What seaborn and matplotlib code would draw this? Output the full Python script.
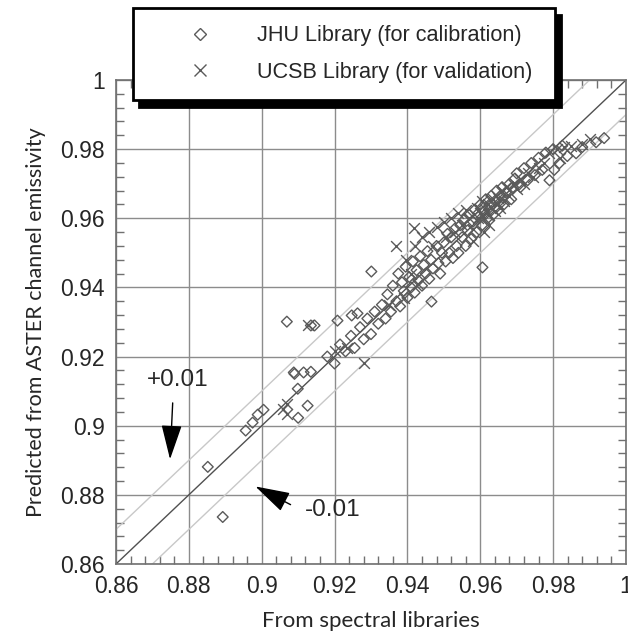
import numpy as np
import pandas as pd
import matplotlib
matplotlib.use("Agg")
import matplotlib.pyplot as plt
from matplotlib.lines import Line2D
from matplotlib.ticker import MultipleLocator, FuncFormatter
import seaborn as sns

# JHU library (calibration) - diamonds
jhu_x = [0.8852, 0.8893, 0.8956, 0.8975, 0.8989, 0.9005, 0.9069, 0.9135, 0.9088, 0.9115,
         0.9135, 0.9099, 0.9126, 0.9100, 0.9090, 0.9145, 0.9208, 0.9247, 0.9263, 0.9301,
         0.9466, 0.9606,
         0.9180, 0.9200, 0.9215, 0.9230, 0.9245, 0.9255, 0.9270, 0.9280, 0.9290, 0.9300,
         0.9310, 0.9320, 0.9330, 0.9340, 0.9345,
         0.9355, 0.9360, 0.9370, 0.9375, 0.9380, 0.9385, 0.9390, 0.9395, 0.9400, 0.9405,
         0.9410, 0.9415, 0.9420, 0.9425, 0.9430, 0.9435, 0.9440, 0.9445, 0.9450, 0.9455,
         0.9460, 0.9465, 0.9470, 0.9480, 0.9485, 0.9490, 0.9495,
         0.9500, 0.9505, 0.9510, 0.9515, 0.9520, 0.9525, 0.9530, 0.9535, 0.9540, 0.9545,
         0.9550, 0.9555, 0.9560, 0.9565, 0.9570, 0.9575, 0.9580, 0.9585, 0.9590, 0.9595,
         0.9600, 0.9605, 0.9610, 0.9615, 0.9620, 0.9625, 0.9630, 0.9635, 0.9640, 0.9645,
         0.9650, 0.9655, 0.9660, 0.9665, 0.9670, 0.9680, 0.9685, 0.9690, 0.9695,
         0.9700, 0.9710, 0.9720, 0.9730, 0.9740, 0.9750, 0.9760, 0.9770, 0.9780, 0.9790,
         0.9803, 0.9817, 0.9839, 0.9863, 0.9880, 0.9918, 0.9940, 0.9825, 0.9800]
jhu_y = [0.8881, 0.8736, 0.8986, 0.9009, 0.9032, 0.9046, 0.9301, 0.9290, 0.9154, 0.9154,
         0.9156, 0.9107, 0.9058, 0.9023, 0.9150, 0.9290, 0.9304, 0.9319, 0.9325, 0.9446,
         0.9359, 0.9458,
         0.9200, 0.9180, 0.9235, 0.9215, 0.9260, 0.9225, 0.9285, 0.9250, 0.9310, 0.9265,
         0.9330, 0.9295, 0.9350, 0.9310, 0.9380,
         0.9330, 0.9405, 0.9360, 0.9440, 0.9345, 0.9415, 0.9390, 0.9460, 0.9370, 0.9430,
         0.9400, 0.9475, 0.9385, 0.9450, 0.9420, 0.9490, 0.9405, 0.9465, 0.9440, 0.9505,
         0.9425, 0.9480, 0.9455, 0.9520, 0.9470, 0.9440, 0.9500,
         0.9530, 0.9475, 0.9555, 0.9500, 0.9545, 0.9485, 0.9570, 0.9520, 0.9500, 0.9580,
         0.9545, 0.9595, 0.9520, 0.9565, 0.9610, 0.9540, 0.9590, 0.9625, 0.9560, 0.9605,
         0.9640, 0.9580, 0.9620, 0.9655, 0.9600, 0.9640, 0.9665, 0.9610, 0.9650, 0.9680,
         0.9625, 0.9665, 0.9690, 0.9640, 0.9675, 0.9700, 0.9655, 0.9690, 0.9715,
         0.9730, 0.9690, 0.9745, 0.9710, 0.9760, 0.9725, 0.9775, 0.9740, 0.9790, 0.9710,
         0.9740, 0.9759, 0.9780, 0.9788, 0.9806, 0.9820, 0.9832, 0.9810, 0.9800]

# UCSB library (validation) - crosses
ucsb_x = [0.9126, 0.9070, 0.9070, 0.9058, 0.9200, 0.9233, 0.9282, 0.9370, 0.9419,
          0.9350, 0.9390, 0.9410, 0.9430,
          0.9395, 0.9420, 0.9440, 0.9460, 0.9470, 0.9480, 0.9500, 0.9505, 0.9520, 0.9530,
          0.9540, 0.9550, 0.9560, 0.9570, 0.9580, 0.9590, 0.9595, 0.9600, 0.9605, 0.9610,
          0.9615, 0.9620, 0.9625, 0.9630, 0.9635, 0.9640, 0.9645, 0.9650, 0.9655, 0.9660,
          0.9665, 0.9670, 0.9680, 0.9690, 0.9700, 0.9710, 0.9720, 0.9730, 0.9745, 0.9760,
          0.9775, 0.9790, 0.9810, 0.9830, 0.9850, 0.9880, 0.9900, 0.9820, 0.9580, 0.9610,
          0.9625]
ucsb_y = [0.9290, 0.9064, 0.9035, 0.9049, 0.9217, 0.9226, 0.9180, 0.9519, 0.9571,
          0.9350, 0.9370, 0.9440, 0.9410,
          0.9480, 0.9520, 0.9545, 0.9560, 0.9520, 0.9575, 0.9590, 0.9545, 0.9600, 0.9560,
          0.9615, 0.9580, 0.9625, 0.9600, 0.9570, 0.9630, 0.9600, 0.9615, 0.9650, 0.9600,
          0.9625, 0.9640, 0.9610, 0.9630, 0.9655, 0.9620, 0.9640, 0.9660, 0.9630, 0.9680,
          0.9650, 0.9690, 0.9665, 0.9700, 0.9685, 0.9715, 0.9700, 0.9730, 0.9720, 0.9745,
          0.9760, 0.9790, 0.9800, 0.9805, 0.9810, 0.9815, 0.9830, 0.9775, 0.9535, 0.9560,
          0.9580]

jhu = pd.DataFrame({"x": jhu_x, "y": jhu_y})
ucsb = pd.DataFrame({"x": ucsb_x, "y": ucsb_y})

sns.set_style("ticks")
plt.rcParams["font.family"] = ["Liberation Sans", "DejaVu Sans"]

fig = plt.figure(figsize=(6.28, 6.37), dpi=100)
ax = fig.add_axes([0.1847, 0.1146, 0.8121, 0.7598])

mark_col = "#5a5a5a"
lims = [0.86, 1.0]

# 1:1 and +/-0.01 lines
ax.plot(lims, lims, color="#505050", lw=1, zorder=2)
ax.plot([0.86, 0.99], [0.87, 1.0], color="#c8c8c8", lw=1, zorder=2)
ax.plot([0.87, 1.0], [0.86, 0.99], color="#c8c8c8", lw=1, zorder=2)

sns.scatterplot(data=jhu, x="x", y="y", ax=ax, marker="D", s=30,
                facecolors="none", edgecolor=mark_col, linewidth=1, zorder=3)
sns.scatterplot(data=ucsb, x="x", y="y", ax=ax, marker="x", s=60,
                color=mark_col, linewidth=1, zorder=3)

ax.set_xlim(lims)
ax.set_ylim(lims)
ax.xaxis.set_major_locator(MultipleLocator(0.02))
ax.yaxis.set_major_locator(MultipleLocator(0.02))
ax.xaxis.set_minor_locator(MultipleLocator(0.004))
ax.yaxis.set_minor_locator(MultipleLocator(0.004))
fmt = FuncFormatter(lambda v, p: "%g" % round(v, 2))
ax.xaxis.set_major_formatter(fmt)
ax.yaxis.set_major_formatter(fmt)
ax.grid(True, which="major", color="#8c8c8c", lw=1)
ax.tick_params(which="both", direction="in", top=True, right=True, color="#707070",
               labelsize=16.5, pad=8)
ax.tick_params(which="major", length=0)
ax.tick_params(which="minor", length=6, width=1)
for sp in ax.spines.values():
    sp.set_color("#707070")
    sp.set_linewidth(1.2)

ax.set_xlabel("From spectral libraries", fontsize=16, family="Lato", labelpad=9)
ax.set_ylabel("Predicted from ASTER channel emissivity", fontsize=15.5, family="Lato",
              labelpad=10)

# annotations
arrow_style = dict(arrowstyle="-|>,head_length=1.45,head_width=0.43",
                   mutation_scale=15, color="black", lw=1)
ax.text(0.8770, 0.9132, "+0.01", fontsize=17.5, ha="center", va="center")
ax.annotate("", xy=(0.8748, 0.8895), xytext=(0.8756, 0.9074), arrowprops=arrow_style)
ax.text(0.9119, 0.8756, "-0.01", fontsize=17.5, ha="left", va="center")
ax.annotate("", xy=(0.8976, 0.8828), xytext=(0.9086, 0.8768), arrowprops=arrow_style)

# legend box with hard shadow
handles = [Line2D([], [], marker="D", ls="none", mfc="none", mec=mark_col, ms=6, mew=1),
           Line2D([], [], marker="x", ls="none", color=mark_col, ms=8, mew=1)]
leg = fig.legend(handles, ["JHU Library (for calibration)", "UCSB Library (for validation)"],
                 loc="upper left", bbox_to_anchor=(0.2118, 0.843, 0.672, 0.1444),
                 mode="expand", fontsize=15.6, frameon=True, fancybox=False,
                 borderpad=0.8, borderaxespad=0, handlelength=4.58, handletextpad=0.33,
                 labelspacing=0.7, edgecolor="black", framealpha=1,
                 shadow={"ox": 4.5, "oy": -5, "color": "black", "alpha": 1})
leg.get_frame().set_linewidth(2)

fig.savefig("out.png", dpi=100)
